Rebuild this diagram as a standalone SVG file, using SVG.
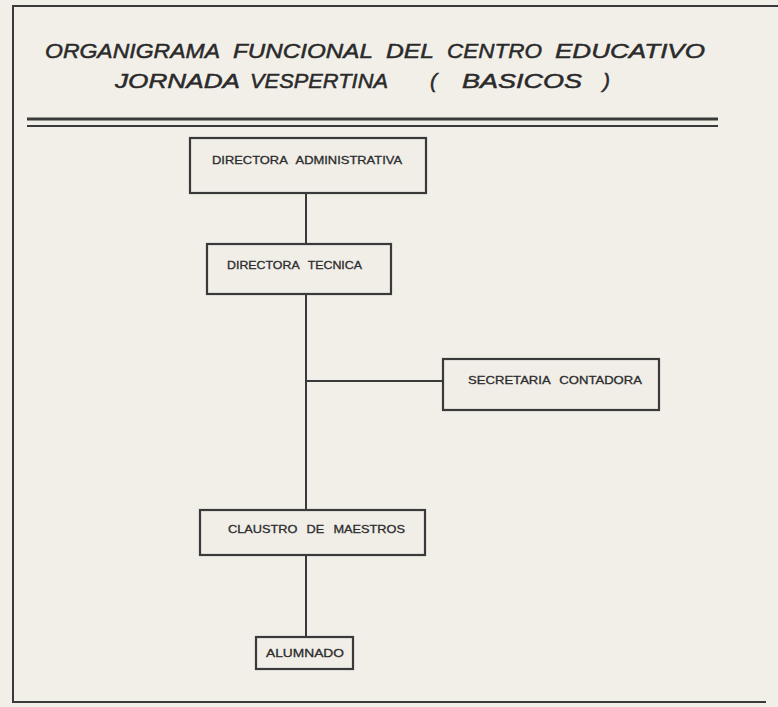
<svg xmlns="http://www.w3.org/2000/svg" width="778" height="707" viewBox="0 0 778 707">
<style>
.bg{fill:#f2efe9}
.frame{stroke:#3a3a3a;stroke-width:2;fill:none}
.box{fill:#f1eee8;stroke:#3a3a3a;stroke-width:2.2}
.lbl{font-family:"Liberation Sans",Arial,sans-serif;font-size:11.5px;fill:#2c2c2c;stroke:#2c2c2c;stroke-width:0.3;word-spacing:5px}
.ttl{font-family:"Liberation Sans",Arial,sans-serif;font-size:21px;font-style:italic;fill:#2a2a2a;stroke:#2a2a2a;stroke-width:0.5}
.con{stroke:#3a3a3a;stroke-width:2;fill:none}
</style>
<rect class="bg" x="0" y="0" width="778" height="707"/>
<g id="frame">
<line class="frame" x1="13" y1="6" x2="778" y2="6"/>
<line class="frame" x1="13" y1="5" x2="13" y2="703"/>
<line class="frame" x1="12" y1="702" x2="766" y2="702"/>
<line x1="27" y1="119" x2="718" y2="119" stroke="#3a3a3a" stroke-width="3"/>
<line x1="27" y1="126" x2="718" y2="126" stroke="#3a3a3a" stroke-width="2"/>
</g>
<g id="title">
<text class="ttl" x="45" y="58" textLength="175" lengthAdjust="spacingAndGlyphs">ORGANIGRAMA</text>
<text class="ttl" x="233" y="58" textLength="140" lengthAdjust="spacingAndGlyphs">FUNCIONAL</text>
<text class="ttl" x="386" y="58" textLength="48" lengthAdjust="spacingAndGlyphs">DEL</text>
<text class="ttl" x="447" y="58" textLength="95" lengthAdjust="spacingAndGlyphs">CENTRO</text>
<text class="ttl" x="555" y="58" textLength="150" lengthAdjust="spacingAndGlyphs">EDUCATIVO</text>
<text class="ttl" x="115" y="88" textLength="125" lengthAdjust="spacingAndGlyphs">JORNADA</text>
<text class="ttl" x="250" y="88" textLength="138" lengthAdjust="spacingAndGlyphs">VESPERTINA</text>
<text class="ttl" x="430" y="88">(</text>
<text class="ttl" x="462" y="88" textLength="120" lengthAdjust="spacingAndGlyphs">BASICOS</text>
<text class="ttl" x="603" y="88">)</text>
</g>
<g id="connectors">
<line class="con" x1="306" y1="193" x2="306" y2="244"/>
<line class="con" x1="306" y1="294" x2="306" y2="510"/>
<line class="con" x1="306" y1="381" x2="443" y2="381"/>
<line class="con" x1="306" y1="555" x2="306" y2="637"/>
</g>
<g id="n1">
<rect class="box" x="190" y="138" width="236" height="55"/>
<text class="lbl" x="212" y="164" textLength="190" lengthAdjust="spacingAndGlyphs">DIRECTORA ADMINISTRATIVA</text>
</g>
<g id="n2">
<rect class="box" x="207" y="244" width="184" height="50"/>
<text class="lbl" x="227" y="269" textLength="135" lengthAdjust="spacingAndGlyphs">DIRECTORA TECNICA</text>
</g>
<g id="n3">
<rect class="box" x="443" y="359" width="216" height="51"/>
<text class="lbl" x="468" y="384" textLength="174" lengthAdjust="spacingAndGlyphs">SECRETARIA CONTADORA</text>
</g>
<g id="n4">
<rect class="box" x="200" y="510" width="225" height="45"/>
<text class="lbl" x="228" y="533" textLength="177" lengthAdjust="spacingAndGlyphs">CLAUSTRO DE MAESTROS</text>
</g>
<g id="n5">
<rect class="box" x="256" y="637" width="97" height="32"/>
<text class="lbl" x="266" y="657" textLength="78" lengthAdjust="spacingAndGlyphs">ALUMNADO</text>
</g>
</svg>
